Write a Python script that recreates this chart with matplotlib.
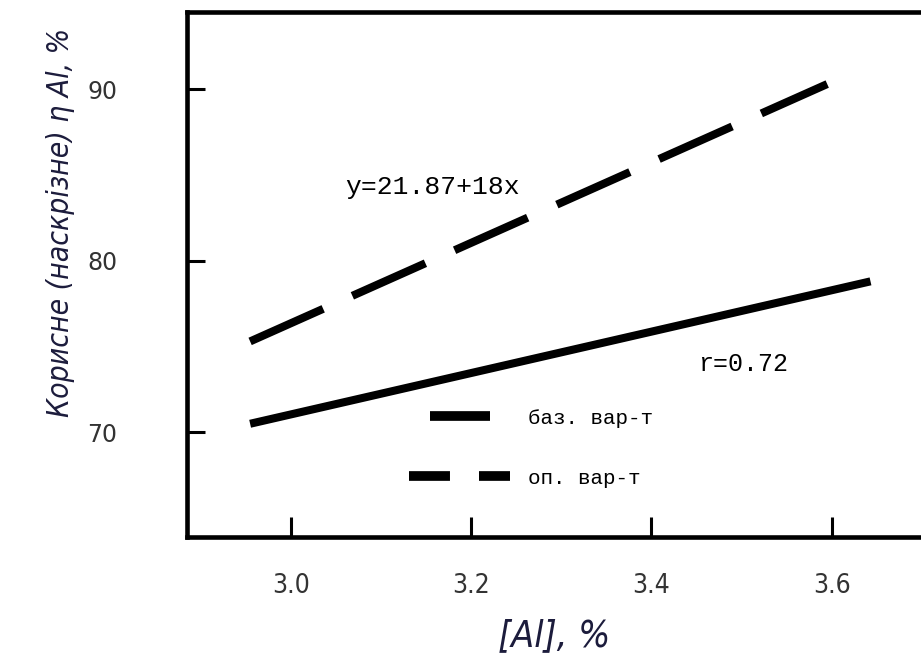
import matplotlib
matplotlib.use("Agg")
import matplotlib.pyplot as plt
from matplotlib.lines import Line2D

# data
al_base = [2.955, 3.643]
eta_base = [70.5, 78.8]
al_opt = [2.955, 3.595]
eta_opt = [75.3, 90.3]
xticks = [3.0, 3.2, 3.4, 3.6]
xtick_labels = ["3.0", "3.2", "3.4", "3.6"]
yticks = [70, 80, 90]
ytick_labels = ["70", "80", "90"]
legend_labels = ["баз. вар-т", "оп. вар-т"]
eq_text = "y=21.87+18x"
r_text = "r=0.72"

mono = "Liberation Mono"
label_col = "#1c1c3c"

plt.rcParams["lines.scale_dashes"] = False

fig = plt.figure(figsize=(9.21, 6.62), dpi=100)
ax = fig.add_axes([187 / 921, 125 / 662, 1 - 187 / 921, (537 - 12) / 662])

ax.plot(al_base, eta_base, color="black", lw=5.8, solid_capstyle="butt")
ax.plot(al_opt, eta_opt, color="black", lw=5.8, dashes=(57.6, 23), dash_capstyle="butt")

ax.set_xlim(2.885, 3.699)
ax.set_ylim(63.9, 94.5)

for s in ["left", "bottom", "top"]:
    ax.spines[s].set_linewidth(3.3)
ax.spines["right"].set_visible(False)

ax.set_xticks(xticks)
ax.set_xticklabels(xtick_labels, family="DejaVu Sans", fontstretch="condensed",
                   fontsize=19, color="#333333")
ax.set_yticks(yticks)
ax.set_yticklabels(ytick_labels, family="DejaVu Sans", fontsize=17, color="#333333")
ax.tick_params(axis="x", direction="in", length=14.5, width=2.2, pad=26)
ax.tick_params(axis="y", direction="in", length=13, width=2.2, pad=50)

ax.set_xlabel("[Al], %", family="DejaVu Sans", fontstretch="condensed", style="italic",
              fontsize=27, color=label_col, labelpad=14)
ax.set_ylabel("Корисне (наскрізне) η Al, %", family="DejaVu Sans",
              fontstretch="condensed", style="italic", fontsize=21.5, color=label_col)
ax.yaxis.set_label_coords(-0.153, 0.6)

ax.text(3.06, 84.3, eq_text, family=mono, fontsize=19, va="center", ha="left")
ax.text(3.452, 74.0, r_text, family=mono, fontsize=18, va="center", ha="left")

# two legend entries, each with its own sample length
h1 = Line2D([], [], color="black", lw=7, solid_capstyle="butt")
h2 = Line2D([], [], color="black", lw=7, dashes=(29.5, 20.9), dash_capstyle="butt")
leg1 = ax.legend([h1], [legend_labels[0]], loc="center left",
                 bbox_to_anchor=(430 / 921, 1 - 418 / 662), bbox_transform=fig.transFigure,
                 frameon=False, borderpad=0, borderaxespad=0, handlelength=2.88,
                 handletextpad=1.8, prop={"family": mono, "size": 15})
ax.add_artist(leg1)
ax.legend([h2], [legend_labels[1]], loc="center left",
          bbox_to_anchor=(409 / 921, 1 - 478 / 662), bbox_transform=fig.transFigure,
          frameon=False, borderpad=0, borderaxespad=0, handlelength=4.86,
          handletextpad=0.85, prop={"family": mono, "size": 15})

fig.savefig("out.png", dpi=100)
